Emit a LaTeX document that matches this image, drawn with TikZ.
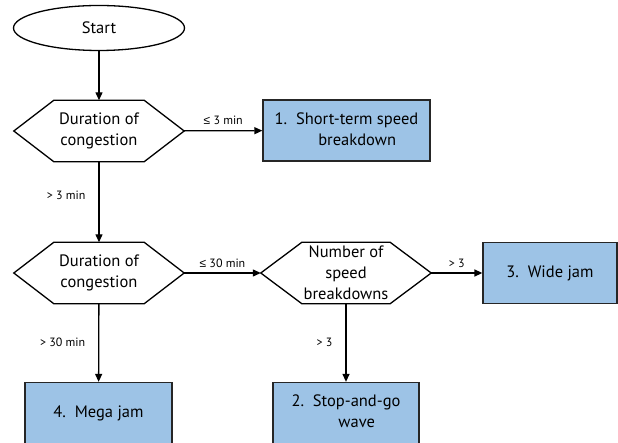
\documentclass[tikz,border=0pt]{standalone}
\usepackage{fontspec}
\setmainfont{PT Sans}
\newfontfamily\symfont{Liberation Sans}
\usetikzlibrary{arrows.meta,shapes.geometric}
\definecolor{boxblue}{RGB}{157,195,230}
\newcommand{\hexshape}[2]{%
  \draw[line width=1.3pt] (#1.west) -- ([xshift=#2]#1.north west) -- ([xshift=-#2]#1.north east) -- (#1.east) -- ([xshift=-#2]#1.south east) -- ([xshift=#2]#1.south west) -- cycle;}
\newcommand{\leqsym}{{\symfont ≤}}
\begin{document}
\begin{tikzpicture}[x=1pt,y=-1pt,
  every node/.style={font=\fontsize{16.5}{21}\selectfont},
  hexnode/.style={rectangle, minimum width=170pt, minimum height=61pt, inner sep=0pt, align=center},
  resbox/.style={rectangle, draw=black!85, line width=1.3pt, fill=boxblue, minimum height=61pt, inner sep=0pt, align=center},
  startnode/.style={ellipse, draw, line width=1.3pt, minimum width=171pt, minimum height=45pt, inner sep=0pt},
  arr/.style={line width=1.3pt, -{Triangle[length=8pt,width=7pt]}},
  lbl/.style={font=\fontsize{12}{13}\selectfont, inner sep=0pt}
]
\useasboundingbox (0,0) rectangle (618,443);
\node[startnode] (start) at (99,28) {Start};
\node[hexnode] (d1) at (99,131) {Duration of\\congestion};
\node[hexnode] (d2) at (99,273) {Duration of\\congestion};
\node[hexnode] (d3) at (346,273) {Number of\\speed\\breakdowns};
\hexshape{d1}{40}
\hexshape{d2}{40}
\hexshape{d3}{41}
\node[resbox, minimum width=167pt] (b1) at (346.5,130.5) {1.\ \ \begin{tabular}[t]{@{}c@{}}Short-term speed\\breakdown\end{tabular}};
\node[resbox, minimum width=134pt] (b3) at (550,273) {3.\ \ Wide jam};
\node[resbox, minimum width=147pt] (b4) at (98.5,413) {4.\ \ Mega jam};
\node[resbox, minimum width=146pt] (b2) at (346,413) {2.\ \ \begin{tabular}[t]{@{}c@{}}Stop-and-go\\wave\end{tabular}};
\draw[arr] (start) -- (d1);
\draw[arr] (d1) -- node[lbl, above=5pt] {\leqsym{} 3 min} (b1);
\draw[arr] (d1) -- node[lbl, pos=0.42, left=13pt] {> 3 min} (d2);
\draw[arr] (d2) -- node[lbl, above=5pt] {\leqsym{} 30 min} (d3);
\draw[arr] (d2) -- node[lbl, pos=0.5, left=13pt] {> 30 min} (b4);
\draw[arr] (d3) -- node[lbl, above=5pt] {> 3} (b3);
\draw[arr] (d3) -- node[lbl, pos=0.5, left=13pt] {> 3} (b2);
\end{tikzpicture}
\end{document}
